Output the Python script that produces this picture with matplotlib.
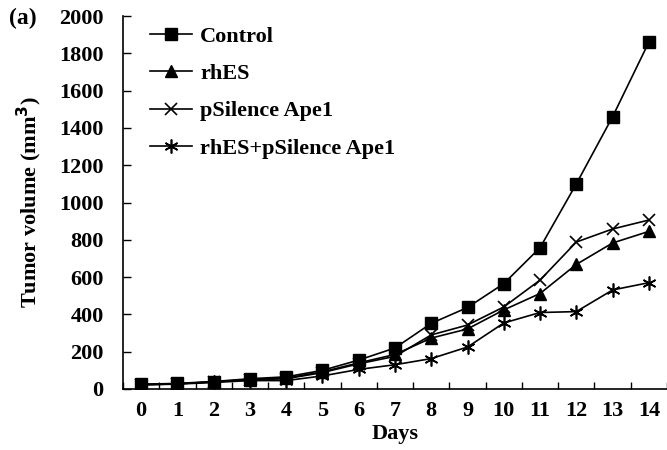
import numpy as np
import matplotlib
matplotlib.use("Agg")
import matplotlib.pyplot as plt

plt.rcParams['font.family'] = ['Liberation Serif', 'DejaVu Serif']
plt.rcParams['font.weight'] = 'bold'

days = np.arange(15)
control = [25, 30, 40, 55, 65, 100, 155, 220, 352, 437, 565, 758, 1100, 1460, 1860]
rhes = [25, 28, 38, 50, 58, 92, 140, 185, 273, 322, 424, 512, 668, 783, 845]
psilence = [22, 28, 38, 50, 55, 88, 135, 175, 290, 343, 440, 584, 788, 858, 906]
combo = [22, 26, 35, 45, 45, 70, 105, 130, 163, 225, 354, 410, 415, 531, 570]
labels = ['Control', 'rhES', 'pSilence Ape1', 'rhES+pSilence Ape1']

fig = plt.figure(figsize=(6.67, 4.5), dpi=100)
ax = fig.add_axes([0.1844, 0.1356, 0.8156, 0.8288])

ax.plot(days, control, color='black', lw=1.2, marker='s', ms=8, label=labels[0])
ax.plot(days, rhes, color='black', lw=1.2, marker='^', ms=8, label=labels[1])
ax.plot(days, psilence, color='black', lw=1.2, marker='x', ms=9, mew=1.2, label=labels[2])
ax.plot(days, combo, color='black', lw=1.2, marker=(6, 2, 0), ms=10, mew=1.2, label=labels[3])

ax.set_xlim(-0.5, 14.5)
ax.set_ylim(0, 2000)
ax.set_yticks(np.arange(0, 2001, 200))
ax.set_xticks(np.arange(-0.5, 14.6, 1))
ax.set_xticklabels([])
ax.set_xticks(days, minor=True)
ax.set_xticklabels([str(d) for d in days], minor=True)
ax.tick_params(axis='x', which='major', direction='in', length=5, width=1)
ax.tick_params(axis='x', which='minor', length=0, pad=9, labelsize=16)
ax.tick_params(axis='y', direction='in', length=6, width=1, labelsize=16, pad=14)
for lab in ax.get_xticklabels(minor=True) + ax.get_yticklabels():
    lab.set_fontweight('bold')

ax.spines['top'].set_visible(False)
ax.spines['right'].set_visible(False)
ax.spines['left'].set_linewidth(1.2)
ax.spines['bottom'].set_linewidth(1.2)

ax.set_xlabel('Days', fontsize=16, fontweight='bold', labelpad=2)
ax.set_ylabel('Tumor volume (mm$^\\mathbf{3}$)', fontsize=16, fontweight='bold', labelpad=11)

leg = ax.legend(loc='upper left', bbox_to_anchor=(0.017, 1.02), frameon=False,
                prop={'size': 16, 'weight': 'bold'}, handlelength=1.9,
                handletextpad=0.35, labelspacing=0.75, borderpad=0.3)

fig.text(0.014, 0.96, '(a)', fontsize=17, fontweight='bold', va='center')

fig.savefig('out.png', dpi=100)
